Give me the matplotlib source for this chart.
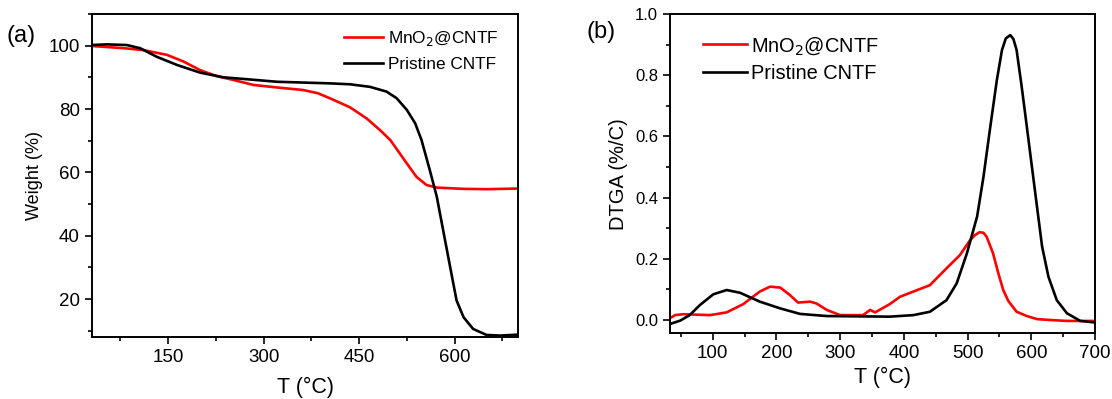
import matplotlib
matplotlib.use("Agg")
import matplotlib.pyplot as plt
from matplotlib.ticker import MultipleLocator

plt.rcParams['font.family'] = ['Liberation Sans', 'DejaVu Sans']

# (a) TGA curves
tga_mno2_T = [30, 80, 111, 148, 174, 200, 226, 252, 284, 321, 362, 385, 404, 436,
              462, 483, 499, 525, 540, 556, 572, 614, 650, 700]
tga_mno2_w = [99.9, 99.2, 98.6, 97.1, 95.0, 92.3, 90.4, 89.2, 87.6, 86.8, 86.0, 85.0,
              83.4, 80.5, 77.0, 73.3, 70.2, 62.8, 58.6, 56.0, 55.2, 54.8, 54.7, 54.9]
tga_cntf_T = [30, 54, 85, 106, 132, 164, 200, 237, 268, 321, 404, 436, 467, 493,
              509, 525, 538, 548, 561, 572, 582, 593, 603, 614, 629, 650, 671, 700]
tga_cntf_w = [100.2, 100.4, 100.2, 99.2, 96.5, 93.9, 91.5, 90.0, 89.5, 88.6, 88.1,
              87.8, 87.0, 85.5, 83.4, 79.7, 75.5, 70.2, 60.7, 52.3, 41.7, 30.1, 19.6,
              14.3, 10.6, 8.7, 8.5, 8.8]

# (b) DTGA curves
dtga_mno2_T = [33, 41, 54, 96, 122, 148, 174, 190, 206, 221, 234, 253, 263, 279, 300,
               336, 347, 355, 378, 394, 415, 441, 467, 488, 504, 512, 519, 525, 530,
               540, 548, 556, 564, 577, 593, 609, 630, 656, 700]
dtga_mno2_v = [0.006, 0.016, 0.019, 0.016, 0.025, 0.052, 0.093, 0.109, 0.106, 0.082,
               0.057, 0.060, 0.054, 0.033, 0.016, 0.016, 0.033, 0.025, 0.052, 0.076,
               0.093, 0.114, 0.169, 0.212, 0.261, 0.278, 0.287, 0.285, 0.272, 0.218,
               0.155, 0.098, 0.062, 0.027, 0.013, 0.003, 0.000, -0.003, -0.003]
dtga_cntf_T = [33, 49, 64, 80, 101, 122, 143, 174, 206, 237, 279, 378, 415, 441, 467,
               483, 499, 515, 525, 535, 546, 554, 560, 567, 572, 577, 585, 593, 601,
               609, 617, 627, 640, 656, 677, 700]
dtga_cntf_v = [-0.013, -0.002, 0.016, 0.049, 0.084, 0.098, 0.089, 0.060, 0.038, 0.020,
               0.013, 0.011, 0.016, 0.027, 0.065, 0.120, 0.218, 0.338, 0.468, 0.621,
               0.784, 0.882, 0.920, 0.931, 0.918, 0.882, 0.762, 0.632, 0.501, 0.370,
               0.240, 0.141, 0.065, 0.022, -0.003, -0.008]

red = '#ff0000'
black = '#000000'

fig = plt.figure(figsize=(11.12, 3.99), dpi=100)
ax1 = fig.add_axes([0.0825, 0.155, 0.3836, 0.81])
ax2 = fig.add_axes([0.6025, 0.1642, 0.3822, 0.8008])

for ax in (ax1, ax2):
    for s in ax.spines.values():
        s.set_linewidth(1.4)
    ax.tick_params(which='both', direction='out', top=False, right=False, width=1.2)
    ax.tick_params(which='major', length=5)
    ax.tick_params(which='minor', length=3)

# panel (a)
ax1.plot(tga_mno2_T, tga_mno2_w, color=red, lw=1.9, label='MnO$_2$@CNTF')
ax1.plot(tga_cntf_T, tga_cntf_w, color=black, lw=1.9, label='Pristine CNTF')
ax1.set_xlim(30, 700)
ax1.set_ylim(8, 110)
ax1.xaxis.set_major_locator(MultipleLocator(150))
ax1.xaxis.set_minor_locator(MultipleLocator(75))
ax1.yaxis.set_major_locator(MultipleLocator(20))
ax1.yaxis.set_minor_locator(MultipleLocator(10))
ax1.tick_params(which='major', labelsize=13.5)
ax1.set_xlabel('T (°C)', fontsize=15.5, labelpad=8)
ax1.set_ylabel('Weight (%)', fontsize=13, labelpad=4)
ax1.legend(loc='upper right', fontsize=12.4, frameon=False, handlelength=2.3,
           handletextpad=0.3, bbox_to_anchor=(0.991, 1.0), labelspacing=0.5)
fig.text(0.006, 0.895, '(a)', fontsize=17)

# panel (b)
ax2.plot(dtga_mno2_T, dtga_mno2_v, color=red, lw=1.9, label='MnO$_2$@CNTF')
ax2.plot(dtga_cntf_T, dtga_cntf_v, color=black, lw=1.9, label='Pristine CNTF')
ax2.set_xlim(33, 700)
ax2.set_ylim(-0.044, 1.0)
ax2.xaxis.set_major_locator(MultipleLocator(100))
ax2.xaxis.set_minor_locator(MultipleLocator(50))
ax2.yaxis.set_major_locator(MultipleLocator(0.2))
ax2.yaxis.set_minor_locator(MultipleLocator(0.1))
ax2.tick_params(axis='x', which='major', labelsize=13.5)
ax2.tick_params(axis='y', which='major', labelsize=12)
ax2.set_xlabel('T (°C)', fontsize=15.5, labelpad=3)
ax2.set_ylabel('DTGA (%/C)', fontsize=14.5, labelpad=5)
ax2.legend(loc='upper left', fontsize=14.4, frameon=False, handlelength=2.2,
           handletextpad=0.2, bbox_to_anchor=(0.035, 0.99), labelspacing=0.38)
fig.text(0.527, 0.905, '(b)', fontsize=17)

fig.savefig('out.png', dpi=100)
